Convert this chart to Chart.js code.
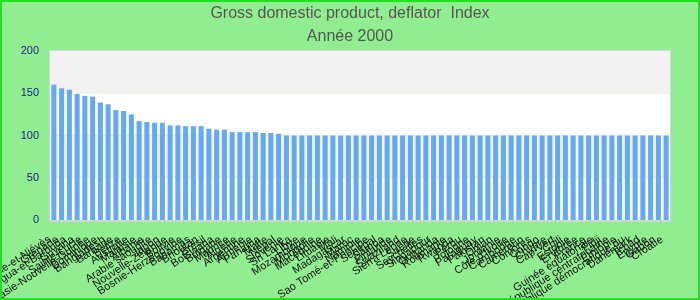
<!DOCTYPE html>
<html>
<head>
<meta charset="utf-8">
<script src="https://cdn.jsdelivr.net/npm/chart.js@4"></script>
<style>
html,body{margin:0;padding:0;background:#90EE90;}
#wrap{width:700px;height:300px;position:relative;}
</style>
</head>
<body>
<div id="wrap"><canvas id="c"></canvas></div>
<script>
const categories = [
 "Saint-Christophe-et-Niévès","Grenade","Antigua-et-Barbuda","Guyana","Sainte-Lucie",
 "Papouasie-Nouvelle-Guinée","Dominique","Bangladesh","Barbade","Belize",
 "Australie","Malaisie","Albanie","Arabie saoudite","Japon",
 "Nouvelle-Zélande","Bolivie","Bosnie-Herzégovine","Bahamas","Bhoutan",
 "Brésil","Botswana","Bulgarie","Maurice","Algérie",
 "Argentine","Arménie","Panama","Malte","Népal",
 "Slovénie","Sri Lanka","Libye","Mozambique","Mongolie",
 "Macédoine","Lituanie","Mali","Madagascar","Maroc",
 "Namibie","Sao Tomé-et-Principe","Sénégal","Samoa","Finlande",
 "Swaziland","Sierra Leone","Suède","Seychelles","Singapour",
 "Ouganda","Roumanie","Rwanda","Pérou","Pologne",
 "Paraguay","Pakistan","Oman","Jordanie","Côte d'Ivoire",
 "Cambodge","Cameroun","Comores","Congo","Chypre",
 "Cap-Vert","Chili","Estonie","Érythrée","France",
 "Guinée équatoriale","Fidji","République centrafricaine","Éthiopie","Congo, République démocratique du",
 "Danemark","Tchad","Égypte","Gabon","Croatie"
];
const deflatorIndex = [
 160,156,154,149,147,146,139,137,130,129,
 125,117,116,115,115,112,112,111,111,111,
 108,107,107,104,104,104,104,103,103,102,
 100,100,100,100,100,100,100,100,100,100,
 100,100,100,100,100,100,100,100,100,100,
 100,100,100,100,100,100,100,100,100,100,
 100,100,100,100,100,100,100,100,100,100,
 100,100,100,100,100,100,100,100,100,100
];
const yTicks = [0,50,100,150,200];
const titleLines = ["Gross domestic product, deflator  Index","Année 2000"];

const bandPlugin = {
  id:'bands',
  beforeDraw(chart){
    const {ctx,width,height} = chart;
    ctx.save();
    ctx.fillStyle = '#90EE90';
    ctx.fillRect(0,0,width,height);
    ctx.restore();
  },
  beforeDatasetsDraw(chart){
    const {ctx,chartArea:a,scales:{y}} = chart;
    const cols = ['#ffffff','#f6f6f6','#ffffff','#f2f2f2'];
    ctx.save();
    for(let i=0;i<yTicks.length-1;i++){
      const t = y.getPixelForValue(yTicks[i+1]);
      const b = y.getPixelForValue(yTicks[i]);
      ctx.fillStyle = cols[i];
      ctx.fillRect(a.left,t,a.right-a.left,b-t);
    }
    ctx.restore();
  },
  afterDatasetsDraw(chart){
    const {ctx,chartArea:a} = chart;
    ctx.save();
    ctx.strokeStyle = '#d6d6d6';
    ctx.lineWidth = 1;
    ctx.strokeRect(a.left-0.5,a.top-0.5,a.right-a.left+1,a.bottom-a.top+1);
    ctx.beginPath();
    ctx.moveTo(a.left-1,a.bottom+1);ctx.lineTo(a.right+1,a.bottom+1);
    ctx.stroke();
    ctx.restore();
  },
  afterDraw(chart){
    const {ctx,width,height} = chart;
    ctx.save();
    ctx.strokeStyle = '#22e022';
    ctx.lineWidth = 2;
    ctx.strokeRect(1,1,width-2,height-2);
    ctx.restore();
  }
};

new Chart(document.getElementById('c'),{
  type:'bar',
  data:{
    labels:categories,
    datasets:[{data:deflatorIndex,backgroundColor:'#63a9f4',borderWidth:0,barPercentage:0.65,categoryPercentage:1}]
  },
  options:{
    responsive:true,maintainAspectRatio:false,animation:false,
    layout:{padding:0},
    plugins:{
      legend:{display:false},
      tooltip:{enabled:false},
      title:{display:true,text:titleLines,color:'#555555',
        font:{family:'"Liberation Sans", Arial, sans-serif',size:16,weight:'normal',lineHeight:1.4375},
        padding:{top:2,bottom:3}}
    },
    scales:{
      x:{
        grid:{display:false,drawTicks:false},border:{display:false},
        ticks:{autoSkip:false,maxRotation:33,minRotation:33,color:'#111111',padding:13,labelOffset:-4,
          font:{family:'"Liberation Sans", Arial, sans-serif',size:11}},
        afterFit(s){s.height=80;s.paddingLeft=0;s.paddingRight=0;}
      },
      y:{
        min:0,max:200,
        afterBuildTicks(s){s.ticks = yTicks.map(v=>({value:v}));},
        grid:{display:false,drawTicks:false},border:{display:false},
        ticks:{color:'#1a1a8a',padding:11,font:{family:'"Liberation Sans", Arial, sans-serif',size:11}},
        afterFit(s){s.width=50;s.paddingTop=0;s.paddingBottom=0;}
      },
      yRight:{
        type:'linear',position:'right',min:0,max:200,display:true,
        grid:{display:false,drawTicks:false},border:{display:false},
        ticks:{display:false},
        afterFit(s){s.width=30;s.paddingTop=0;s.paddingBottom=0;}
      }
    }
  },
  plugins:[bandPlugin]
});
</script>
</body>
</html>
